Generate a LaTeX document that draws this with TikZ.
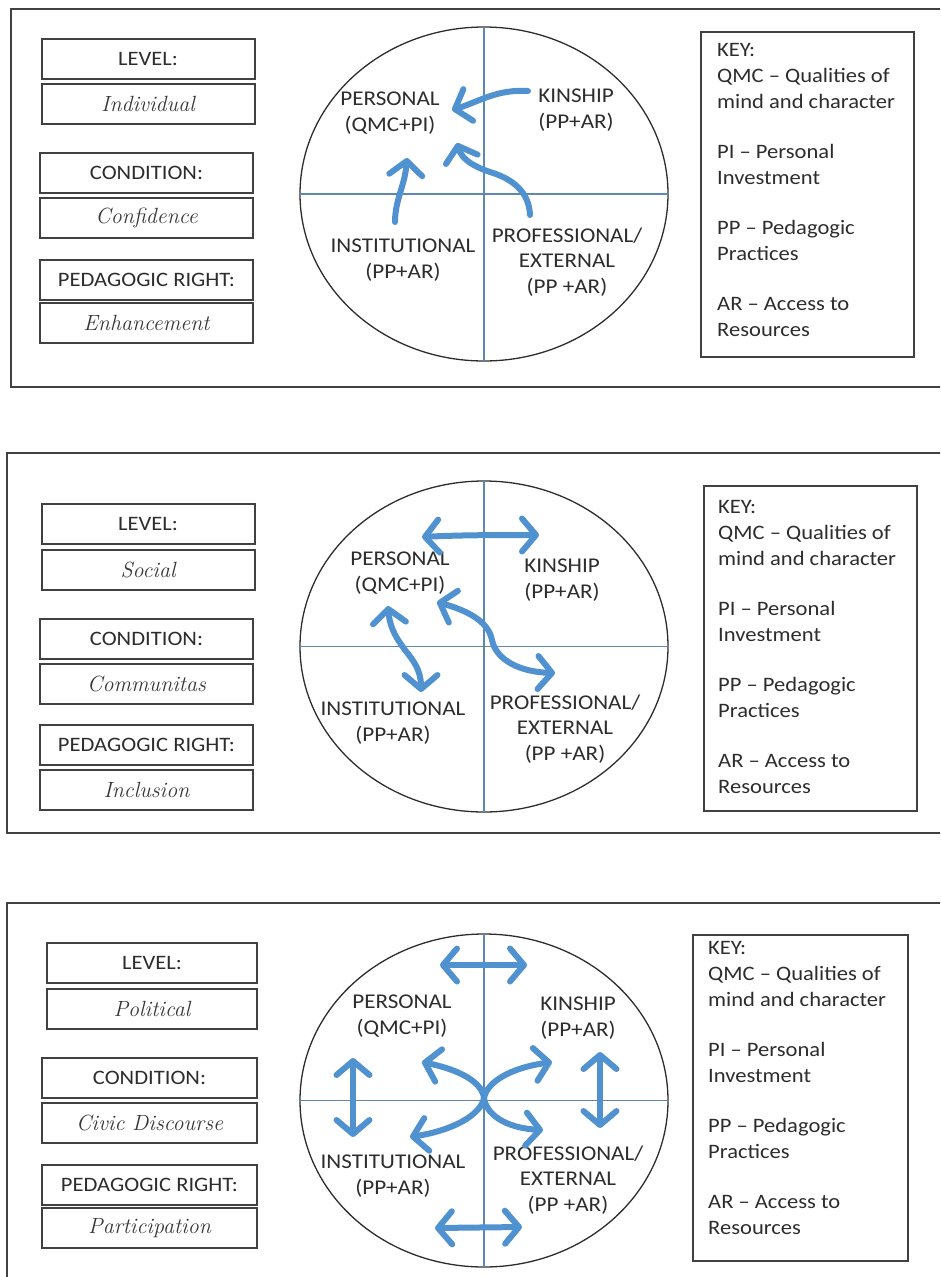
\documentclass[tikz,border=0pt]{standalone}
\usepackage{fontspec}
\usetikzlibrary{arrows.meta}
\newfontfamily\labelfont{Carlito}[FakeStretch=1.1,Ligatures=TeX]

\definecolor{ink}{RGB}{45,45,45}
\definecolor{framegray}{RGB}{65,65,65}
\definecolor{axisblue}{RGB}{95,135,180}
\definecolor{arrowblue}{RGB}{80,145,208}
\definecolor{hand}{RGB}{55,55,55}

\tikzset{
  x=1pt, y=-1pt,
  panel/.style={draw=framegray, line width=1.6pt},
  field/.style={draw=framegray, line width=2pt, minimum width=213pt, minimum height=40pt,
    inner sep=0pt, font=\labelfont\fontsize{20.5}{24}\selectfont, text=ink},
  entry/.style={field, font=\itshape\fontsize{22}{26}\selectfont, text=hand},
  keybox/.style={draw=framegray, line width=1.6pt, inner sep=0pt, anchor=north west},
  keytext/.style={anchor=north west, align=left, inner sep=0pt,
    font=\labelfont\fontsize{20.5}{26}\selectfont, text=ink},
  ring/.style={draw=ink, line width=1.3pt},
  axisline/.style={draw=axisblue, line width=1.2pt},
  sector/.style={align=center, inner sep=0pt, font=\labelfont\fontsize{21}{25.5}\selectfont, text=ink},
  flowline/.style={draw=arrowblue, line width=6pt, line cap=round},
  one/.style={flowline, -{Straight Barb[round,length=14pt,width=33pt]}},
  both/.style={flowline, {Straight Barb[round,length=14pt,width=33pt]}-{Straight Barb[round,length=14pt,width=33pt]}},
}

\newcommand{\keylines}{KEY:\\QMC – Qualities of\\mind and character\\[24pt]PI – Personal\\Investment\\[24pt]PP – Pedagogic\\Practices\\[24pt]AR – Access to\\Resources}

\begin{document}
\begin{tikzpicture}
\useasboundingbox (0,0) rectangle (940,1277);
\fill[white] (0,0) rectangle (940,1277);
\clip (0,0) rectangle (940,1277);

% ---------- panel 1: individual ----------
\draw[panel] (950,9) -- (11,9) -- (11,387) -- (950,387);
\node[field] (lev1) at (148,59) {LEVEL:};
\node[entry] (levv1) at (148,104) {Individual};
\node[field] (con1) at (146.5,173) {CONDITION:};
\node[entry] (conv1) at (146.5,218) {Confidence};
\node[field] (ped1) at (146.5,280) {PEDAGOGIC RIGHT:};
\node[entry] (pedv1) at (146.5,323) {Enhancement};

\draw[ring] (484,194) ellipse [x radius=184, y radius=167];
\draw[axisline] (484,27) -- (484,361);
\draw[axisline] (300,194) -- (668,194);

\node[sector] (per1) at (390,113) {PERSONAL\\(QMC+PI)};
\node[sector] (kin1) at (576,110) {KINSHIP\\(PP+AR)};
\node[sector] (ins1) at (403,260) {INSTITUTIONAL\\(PP+AR)};
\node[sector] (pro1) at (567,262) {PROFESSIONAL/\\EXTERNAL\\(PP +AR)};

\coordinate (a1s) at (528,91);  \coordinate (a1e) at (452,110);
\coordinate (b1s) at (395,222); \coordinate (b1e) at (407,158);
\coordinate (c1s) at (530,215); \coordinate (c1m) at (490,172); \coordinate (c1e) at (457,143);
\draw[one] (a1s) .. controls (497,89) and (478,102) .. (a1e);
\draw[one] (b1s) .. controls (395,200) and (405,185) .. (b1e);
\draw[one] (c1s) .. controls (529,190) and (510,178) .. (c1m) .. controls (475,167) and (462,160) .. (c1e);

\node[keybox, minimum width=213pt, minimum height=325pt] (key1) at (700,31) {};
\node[keytext] (kt1) at (717,43) {\keylines};

% ---------- panel 2: social ----------
\draw[panel] (950,453) -- (7,453) -- (7,833) -- (950,833);
\node[field] (lev2) at (148,523.5) {LEVEL:};
\node[entry] (levv2) at (148,569.5) {Social};
\node[field] (con2) at (146.5,638.5) {CONDITION:};
\node[entry] (conv2) at (146.5,683.5) {Communitas};
\node[field] (ped2) at (146.5,744.5) {PEDAGOGIC RIGHT:};
\node[entry] (pedv2) at (146.5,789.5) {Inclusion};

\draw[ring] (484,646.5) ellipse [x radius=184, y radius=165.5];
\draw[axisline] (484,481) -- (484,812);
\draw[axisline] (300,646.5) -- (668,646.5);

\node[sector] (per2) at (400,573) {PERSONAL\\(QMC+PI)};
\node[sector] (kin2) at (562,580) {KINSHIP\\(PP+AR)};
\node[sector] (ins2) at (393,723) {INSTITUTIONAL\\(PP+AR)};
\node[sector] (pro2) at (565,729) {PROFESSIONAL/\\EXTERNAL\\(PP +AR)};

\coordinate (a2s) at (422,537); \coordinate (a2e) at (539,535);
\coordinate (b2s) at (388,606); \coordinate (b2m) at (405,650); \coordinate (b2e) at (421,692);
\coordinate (c2s) at (437,602); \coordinate (c2m) at (492,640); \coordinate (c2e) at (555,673);
\draw[both] (a2s) .. controls (460,535) and (500,535) .. (a2e);
\draw[both] (b2s) .. controls (390,630) and (398,640) .. (b2m) .. controls (413,660) and (421,670) .. (b2e);
\draw[both] (c2s) .. controls (465,610) and (488,620) .. (c2m) .. controls (496,660) and (520,672) .. (c2e);

\node[keybox, minimum width=213pt, minimum height=325pt] (key2) at (703,485) {};
\node[keytext] (kt2) at (718,500) {\keylines};

% ---------- panel 3: political ----------
\draw[panel] (950,903) -- (7,903) -- (7,1290);
\node[field, minimum width=210pt] (lev3) at (152,963) {LEVEL:};
\node[entry, minimum width=210pt] (levv3) at (152,1009) {Political};
\node[field, minimum width=215pt] (con3) at (149.5,1077.5) {CONDITION:};
\node[entry, minimum width=215pt] (conv3) at (149.5,1123) {Civic Discourse};
\node[field, minimum width=215pt] (ped3) at (149.5,1185) {PEDAGOGIC RIGHT:};
\node[entry, minimum width=215pt] (pedv3) at (149.5,1228) {Participation};

\draw[ring] (484,1100.5) ellipse [x radius=184, y radius=166.5];
\draw[axisline] (484,934) -- (484,1267);
\draw[axisline] (300,1100.5) -- (668,1100.5);

\node[sector] (per3) at (402,1016) {PERSONAL\\(QMC+PI)};
\node[sector] (kin3) at (578,1018) {KINSHIP\\(PP+AR)};
\node[sector] (ins3) at (393,1176) {INSTITUTIONAL\\(PP+AR)};
\node[sector] (pro3) at (568,1180) {PROFESSIONAL/\\EXTERNAL\\(PP +AR)};

\coordinate (t3l) at (440,965);  \coordinate (t3r) at (527,965);
\coordinate (u3l) at (435,1228); \coordinate (u3r) at (522,1227);
\coordinate (l3t) at (353,1058); \coordinate (l3b) at (353,1137);
\coordinate (r3t) at (600,1052); \coordinate (r3b) at (600,1128);
\coordinate (x3) at (484,1098);
\coordinate (x3ul) at (422,1062); \coordinate (x3lr) at (543,1130);
\coordinate (x3ur) at (552,1062); \coordinate (x3ll) at (410,1137);
\draw[both] (t3l) -- (t3r);
\draw[both] (u3l) -- (u3r);
\draw[both] (l3t) -- (l3b);
\draw[both] (r3t) -- (r3b);
\draw[both] (x3ul) .. controls (460,1070) and (482,1082) .. (x3) .. controls (486,1114) and (505,1128) .. (x3lr);
\draw[both] (x3ur) .. controls (510,1068) and (487,1082) .. (x3) .. controls (481,1114) and (455,1130) .. (x3ll);

\node[keybox, minimum width=215pt, minimum height=326pt] (key3) at (692,934) {};
\node[keytext] (kt3) at (708,941) {\keylines};
\end{tikzpicture}
\end{document}
